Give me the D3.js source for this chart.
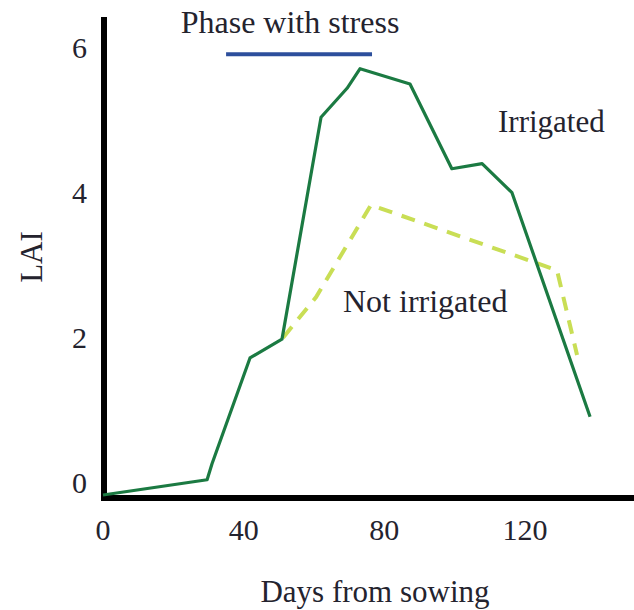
<!DOCTYPE html>
<html>
<head>
<meta charset="utf-8">
<script src="https://cdn.jsdelivr.net/npm/d3@7/dist/d3.min.js"></script>
<style>
  html, body { margin: 0; padding: 0; background: #fff; }
  svg { display: block; }
  text { font-family: "Liberation Serif", "Times New Roman", serif; fill: #24232e; }
</style>
</head>
<body>
<svg id="chart" width="634" height="610"></svg>
<script>
// Leaf area index over the season, irrigated vs. not irrigated
const irrigatedDays = [0, 29.6, 31.0, 41.8, 50.9, 62.0, 69.4, 73.1, 87.3, 99.2, 107.8, 116.3, 138.5];
const irrigatedLAI  = [0, 0.21, 0.43, 1.89, 2.15, 5.21, 5.61, 5.88, 5.67, 4.50, 4.57, 4.17, 1.08];

const rainfedDays = [51.2, 60.6, 76.2, 129.1, 134.8];
const rainfedLAI  = [2.17, 2.73, 4.00, 3.10, 1.93];

// Period of water stress (days from sowing)
const stressPhase = [35, 76.5];
const stressLevel = 6.08;

const xTicks = [0, 40, 80, 120];
const yTicks = [0, 2, 4, 6];

const svg = d3.select("#chart");

const x = d3.scaleLinear().domain([0, 120]).range([103, 525]);
const y = d3.scaleLinear().domain([0, 6]).range([495, 60]);

// Axes: heavy black lines
svg.append("line")
  .attr("x1", x(0) + 1).attr("x2", x(0) + 1)
  .attr("y1", 17).attr("y2", 501)
  .attr("stroke", "#000").attr("stroke-width", 6);
svg.append("line")
  .attr("x1", x(0) - 2).attr("x2", 634)
  .attr("y1", 498).attr("y2", 498)
  .attr("stroke", "#000").attr("stroke-width", 6);

// Tick labels
svg.append("g").selectAll("text").data(xTicks).join("text")
  .attr("x", d => x(d))
  .attr("y", 540)
  .attr("text-anchor", "middle")
  .attr("font-size", 30)
  .text(d => d);

svg.append("g").selectAll("text").data(yTicks).join("text")
  .attr("x", 87)
  .attr("y", d => y(d) - 13)
  .attr("dy", "0.35em")
  .attr("text-anchor", "end")
  .attr("font-size", 30)
  .text(d => d);

// Axis titles
svg.append("text")
  .attr("x", 375).attr("y", 602)
  .attr("text-anchor", "middle")
  .attr("font-size", 31)
  .text("Days from sowing");

svg.append("text")
  .attr("transform", "translate(42,257) rotate(-90)")
  .attr("text-anchor", "middle")
  .attr("font-size", 31)
  .text("LAI");

// Stress period bar and its label
svg.append("line")
  .attr("x1", x(stressPhase[0])).attr("x2", x(stressPhase[1]))
  .attr("y1", y(stressLevel)).attr("y2", y(stressLevel))
  .attr("stroke", "#2d4f9c").attr("stroke-width", 4);

svg.append("text")
  .attr("x", 290).attr("y", 33)
  .attr("text-anchor", "middle")
  .attr("font-size", 32)
  .text("Phase with stress");

const line = d3.line().x(d => x(d[0])).y(d => y(d[1]));

// Not irrigated: dashed yellow-green
svg.append("path")
  .datum(d3.zip(rainfedDays, rainfedLAI))
  .attr("d", line)
  .attr("fill", "none")
  .attr("stroke", "#c9de55")
  .attr("stroke-width", 4)
  .attr("stroke-dasharray", "14 10");

// Irrigated: solid green
svg.append("path")
  .datum(d3.zip(irrigatedDays, irrigatedLAI))
  .attr("d", line)
  .attr("fill", "none")
  .attr("stroke", "#1b7a42")
  .attr("stroke-width", 3.2)
  .attr("stroke-linejoin", "round");

// Series labels
svg.append("text")
  .attr("x", 498).attr("y", 132)
  .attr("font-size", 31)
  .text("Irrigated");

svg.append("text")
  .attr("x", 343).attr("y", 312)
  .attr("font-size", 32)
  .text("Not irrigated");
</script>
</body>
</html>
